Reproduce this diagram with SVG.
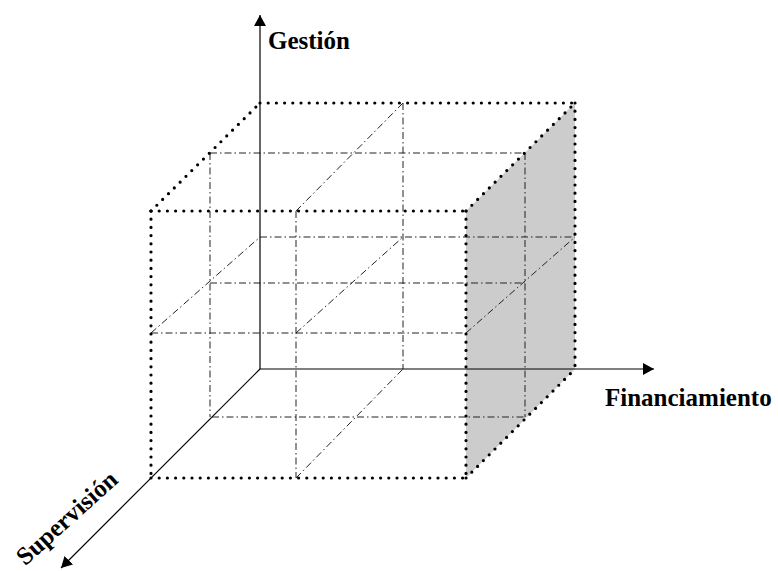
<svg xmlns="http://www.w3.org/2000/svg" width="778" height="571" viewBox="0 0 778 571">
<style>
.dot{fill:none;stroke:#000;stroke-width:3.2;stroke-linecap:round;stroke-dasharray:0 8.2}
.dd{fill:none;stroke:#222;stroke-width:1;stroke-dasharray:7 3 1.5 3}
.axis{fill:none;stroke:#000;stroke-width:1.2}
.lbl{font-family:"Liberation Serif","Times New Roman",serif;font-weight:bold;font-size:25px;fill:#000}
</style>
<defs>
<marker id="arr" markerWidth="12" markerHeight="12" refX="11" refY="6" orient="auto" markerUnits="userSpaceOnUse">
<path d="M0,0 L11,6 L0,12 Z" fill="#000"/>
</marker>
</defs>
<rect width="778" height="571" fill="#fff"/>
<g id="shaded-face">
<polygon points="466,211 575,103 575,369 466,478" fill="#cccccc"/>
</g>
<g id="grid">
<line class="dd" x1="210" y1="153" x2="210" y2="417"/>
<line class="dd" x1="296" y1="211" x2="296" y2="478"/>
<line class="dd" x1="403" y1="103" x2="403" y2="369"/>
<line class="dd" x1="525" y1="153" x2="525" y2="417"/>
<line class="dd" x1="210" y1="153" x2="524" y2="153"/>
<line class="dd" x1="260" y1="237" x2="575" y2="237"/>
<line class="dd" x1="210" y1="283" x2="525" y2="283"/>
<line class="dd" x1="151" y1="333" x2="466" y2="333"/>
<line class="dd" x1="212" y1="417" x2="525" y2="417"/>
<line class="dd" x1="296" y1="211" x2="403" y2="103"/>
<line class="dd" x1="151" y1="333" x2="260" y2="237"/>
<line class="dd" x1="296" y1="333" x2="403" y2="237"/>
<line class="dd" x1="466" y1="333" x2="575" y2="237"/>
<line class="dd" x1="296" y1="478" x2="403" y2="369"/>
</g>
<g id="axes">
<line class="axis" x1="260" y1="369" x2="260" y2="15" marker-end="url(#arr)"/>
<line class="axis" x1="260" y1="369" x2="654" y2="369" marker-end="url(#arr)"/>
<line class="axis" x1="260" y1="369" x2="61" y2="568" marker-end="url(#arr)"/>
</g>
<g id="cube">
<line class="dot" x1="260" y1="103" x2="575" y2="103"/>
<line class="dot" x1="151" y1="211" x2="466" y2="211"/>
<line class="dot" x1="151" y1="211" x2="260" y2="103"/>
<line class="dot" x1="466" y1="211" x2="575" y2="103"/>
<line class="dot" x1="151" y1="211" x2="151" y2="478"/>
<line class="dot" x1="466" y1="211" x2="466" y2="478"/>
<line class="dot" x1="575" y1="103" x2="575" y2="369"/>
<line class="dot" x1="151" y1="478" x2="466" y2="478"/>
<line class="dot" x1="466" y1="478" x2="575" y2="369"/>
</g>
<g id="labels">
<text class="lbl" x="268" y="49">Gestión</text>
<text class="lbl" x="605" y="406">Financiamiento</text>
<text class="lbl" text-anchor="middle" transform="translate(67,518) rotate(-42)" x="0" y="8">Supervisión</text>
</g>
</svg>
